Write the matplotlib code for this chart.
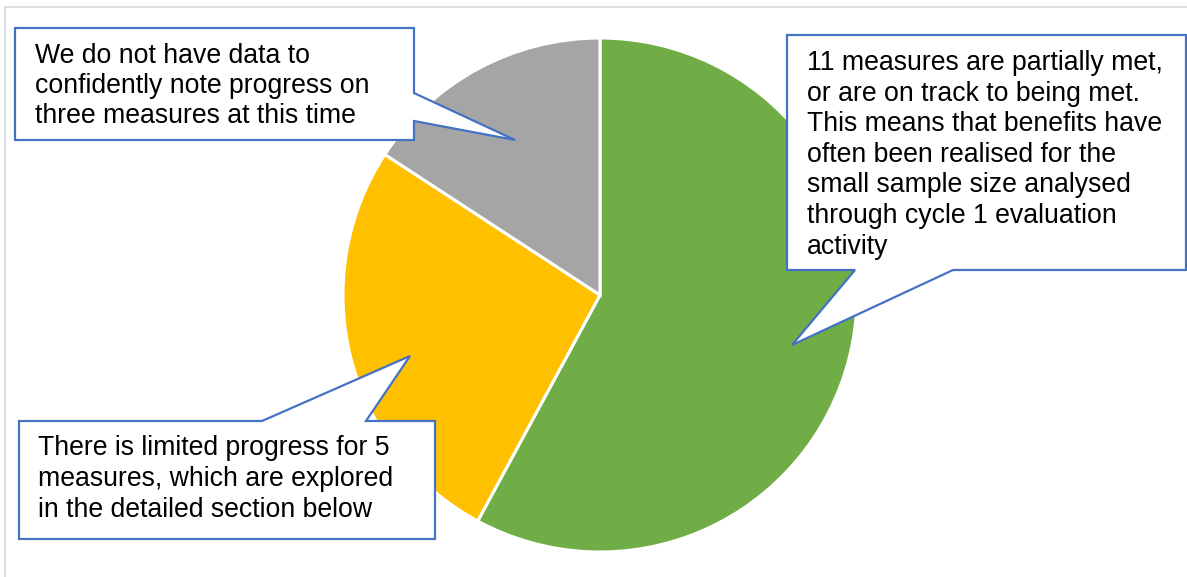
import matplotlib
matplotlib.use("Agg")
import matplotlib.pyplot as plt
from matplotlib.patches import Polygon

# ---- data ----
categories = ["Partially met / on track", "Limited progress", "No data"]
values = [11, 5, 3]
colors = ["#70AD47", "#FFC000", "#A5A5A5"]

text_green = ["11 measures are partially met,",
              "or are on track to being met.",
              "This means that benefits have",
              "often been realised for the",
              "small sample size analysed",
              "through cycle 1 evaluation",
              "activity"]
text_yellow = ["There is limited progress for 5",
               "measures, which are explored",
               "in the detailed section below"]
text_gray = ["We do not have data to",
             "confidently note progress on",
             "three measures at this time"]

W, H = 1187, 577
fig = plt.figure(figsize=(W / 100, H / 100), dpi=100)
ax = fig.add_axes([0, 0, 1, 1])

def Y(y):
    return H - y

ax.pie(values, colors=colors, startangle=90, counterclock=False,
       center=(600, Y(295)), radius=257,
       wedgeprops=dict(edgecolor="white", linewidth=2.2))

# chart frame (partly cropped)
ax.plot([5, 5, W], [Y(H), Y(7), Y(7)], color="#D9D9D9", lw=1.2, zorder=1)

def callout(pts, lines, x0, base0, step):
    poly = Polygon([(x, Y(y)) for x, y in pts], closed=True,
                   facecolor="white", edgecolor="#4472C4", lw=1.6, zorder=5,
                   joinstyle="miter")
    ax.add_patch(poly)
    for i, s in enumerate(lines):
        ax.text(x0, Y(base0 + i * step), s, fontsize=19.2, family="Liberation Sans",
                color="black", va="baseline", ha="left", zorder=6)

# gray callout: pointer on right edge
callout([(15, 28), (414, 28), (414, 93), (515, 140), (414, 121), (414, 140), (15, 140)],
        text_gray, 35, 63, 30)
# green callout: pointer on bottom edge
callout([(787, 35), (1186, 35), (1186, 270), (953, 270), (792, 345), (855, 270), (787, 270)],
        text_green, 807, 70, 30.6)
# yellow callout: pointer on top edge
callout([(19, 421), (262, 421), (410, 356), (366, 421), (435, 421), (435, 539), (19, 539)],
        text_yellow, 38, 455, 31)

ax.set_xlim(0, W)
ax.set_ylim(0, H)
ax.set_aspect("auto")
ax.axis("off")
fig.savefig("out.png", dpi=100, facecolor="white")
